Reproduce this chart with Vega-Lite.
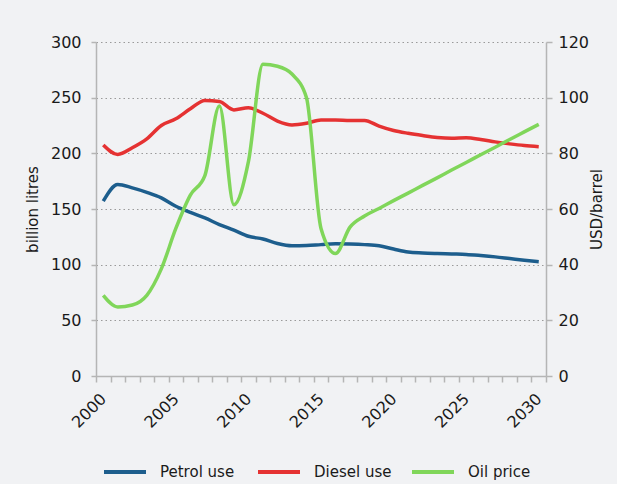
{
  "$schema": "https://vega.github.io/schema/vega-lite/v6.json",
  "width": 450,
  "height": 334,
  "autosize": {"type": "none"},
  "padding": {"left": 96, "top": 42, "right": 71, "bottom": 108},
  "background": "#f1f2f4",
  "config": {
    "view": {"stroke": null},
    "font": "DejaVu Sans",
    "axis": {"labelColor": "#1a1a1a", "titleColor": "#1a1a1a", "domainColor": "#b5b5b5", "tickColor": "#b5b5b5", "domainWidth": 1.5, "tickWidth": 1.5, "titleFontWeight": "normal"},
    "legend": {"labelColor": "#1a1a1a"}
  },
  "data": {
    "values": [
      {"year": 2000, "series": "Petrol use", "value": 157},
      {"year": 2001, "series": "Petrol use", "value": 172},
      {"year": 2002, "series": "Petrol use", "value": 169},
      {"year": 2003, "series": "Petrol use", "value": 165},
      {"year": 2004, "series": "Petrol use", "value": 160},
      {"year": 2005, "series": "Petrol use", "value": 152.5},
      {"year": 2006, "series": "Petrol use", "value": 147},
      {"year": 2007, "series": "Petrol use", "value": 142},
      {"year": 2008, "series": "Petrol use", "value": 136},
      {"year": 2009, "series": "Petrol use", "value": 131},
      {"year": 2010, "series": "Petrol use", "value": 125.5},
      {"year": 2011, "series": "Petrol use", "value": 123},
      {"year": 2012, "series": "Petrol use", "value": 119},
      {"year": 2013, "series": "Petrol use", "value": 117},
      {"year": 2014, "series": "Petrol use", "value": 117.2},
      {"year": 2015, "series": "Petrol use", "value": 118},
      {"year": 2016, "series": "Petrol use", "value": 118.7},
      {"year": 2017, "series": "Petrol use", "value": 118.5},
      {"year": 2018, "series": "Petrol use", "value": 118},
      {"year": 2019, "series": "Petrol use", "value": 117},
      {"year": 2020, "series": "Petrol use", "value": 114},
      {"year": 2021, "series": "Petrol use", "value": 111.3},
      {"year": 2022, "series": "Petrol use", "value": 110.5},
      {"year": 2023, "series": "Petrol use", "value": 110},
      {"year": 2024, "series": "Petrol use", "value": 109.6},
      {"year": 2025, "series": "Petrol use", "value": 109.2},
      {"year": 2026, "series": "Petrol use", "value": 108.2},
      {"year": 2027, "series": "Petrol use", "value": 107},
      {"year": 2028, "series": "Petrol use", "value": 105.5},
      {"year": 2029, "series": "Petrol use", "value": 104},
      {"year": 2030, "series": "Petrol use", "value": 102.7},
      {"year": 2000, "series": "Diesel use", "value": 207.5},
      {"year": 2001, "series": "Diesel use", "value": 199},
      {"year": 2002, "series": "Diesel use", "value": 205},
      {"year": 2003, "series": "Diesel use", "value": 213},
      {"year": 2004, "series": "Diesel use", "value": 225},
      {"year": 2005, "series": "Diesel use", "value": 231},
      {"year": 2006, "series": "Diesel use", "value": 240},
      {"year": 2007, "series": "Diesel use", "value": 247.5},
      {"year": 2008, "series": "Diesel use", "value": 246.5},
      {"year": 2009, "series": "Diesel use", "value": 239},
      {"year": 2010, "series": "Diesel use", "value": 241},
      {"year": 2011, "series": "Diesel use", "value": 236},
      {"year": 2012, "series": "Diesel use", "value": 229},
      {"year": 2013, "series": "Diesel use", "value": 225.5},
      {"year": 2014, "series": "Diesel use", "value": 227},
      {"year": 2015, "series": "Diesel use", "value": 230},
      {"year": 2016, "series": "Diesel use", "value": 230},
      {"year": 2017, "series": "Diesel use", "value": 229.5},
      {"year": 2018, "series": "Diesel use", "value": 229.5},
      {"year": 2019, "series": "Diesel use", "value": 224.5},
      {"year": 2020, "series": "Diesel use", "value": 220.5},
      {"year": 2021, "series": "Diesel use", "value": 218},
      {"year": 2022, "series": "Diesel use", "value": 216},
      {"year": 2023, "series": "Diesel use", "value": 214.3},
      {"year": 2024, "series": "Diesel use", "value": 213.6},
      {"year": 2025, "series": "Diesel use", "value": 214},
      {"year": 2026, "series": "Diesel use", "value": 212.5},
      {"year": 2027, "series": "Diesel use", "value": 210.3},
      {"year": 2028, "series": "Diesel use", "value": 208.5},
      {"year": 2029, "series": "Diesel use", "value": 207},
      {"year": 2030, "series": "Diesel use", "value": 206},
      {"year": 2000, "series": "Oil price", "value": 29},
      {"year": 2001, "series": "Oil price", "value": 24.8},
      {"year": 2002, "series": "Oil price", "value": 25.5},
      {"year": 2003, "series": "Oil price", "value": 29},
      {"year": 2004, "series": "Oil price", "value": 38.5},
      {"year": 2005, "series": "Oil price", "value": 53},
      {"year": 2006, "series": "Oil price", "value": 65},
      {"year": 2007, "series": "Oil price", "value": 72},
      {"year": 2008, "series": "Oil price", "value": 97},
      {"year": 2009, "series": "Oil price", "value": 61.5},
      {"year": 2010, "series": "Oil price", "value": 77},
      {"year": 2011, "series": "Oil price", "value": 112},
      {"year": 2012, "series": "Oil price", "value": 111.3},
      {"year": 2013, "series": "Oil price", "value": 108.5},
      {"year": 2014, "series": "Oil price", "value": 100},
      {"year": 2015, "series": "Oil price", "value": 53},
      {"year": 2016, "series": "Oil price", "value": 44},
      {"year": 2017, "series": "Oil price", "value": 53.5},
      {"year": 2018, "series": "Oil price", "value": 57.5},
      {"year": 2019, "series": "Oil price", "value": 60.2},
      {"year": 2020, "series": "Oil price", "value": 63},
      {"year": 2021, "series": "Oil price", "value": 65.7},
      {"year": 2022, "series": "Oil price", "value": 68.5},
      {"year": 2023, "series": "Oil price", "value": 71.2},
      {"year": 2024, "series": "Oil price", "value": 74},
      {"year": 2025, "series": "Oil price", "value": 76.7},
      {"year": 2026, "series": "Oil price", "value": 79.5},
      {"year": 2027, "series": "Oil price", "value": 82.2},
      {"year": 2028, "series": "Oil price", "value": 85},
      {"year": 2029, "series": "Oil price", "value": 87.7},
      {"year": 2030, "series": "Oil price", "value": 90.4}
    ]
  },
  "encoding": {
    "x": {
      "field": "year",
      "type": "quantitative",
      "scale": {"domain": [1999.5, 2030.5], "nice": false, "zero": false},
      "axis": {
        "title": null,
        "grid": false,
        "values": [1999.5, 2000.5, 2001.5, 2002.5, 2003.5, 2004.5, 2005.5, 2006.5, 2007.5, 2008.5, 2009.5, 2010.5, 2011.5, 2012.5, 2013.5, 2014.5, 2015.5, 2016.5, 2017.5, 2018.5, 2019.5, 2020.5, 2021.5, 2022.5, 2023.5, 2024.5, 2025.5, 2026.5, 2027.5, 2028.5, 2029.5, 2030.5],
        "labelExpr": "(datum.value + 0.5) % 5 === 0 ? format(datum.value + 0.5, 'd') : ''",
        "labelOffset": 7.26,
        "labelAngle": -45,
        "labelAlign": "right",
        "labelBaseline": "middle",
        "labelPadding": 14,
        "labelOverlap": false,
        "labelBound": false,
        "labelFlush": false,
        "labelFontSize": 16,
        "tickSize": 6
      }
    }
  },
  "layer": [
    {
      "transform": [{"filter": "datum.series !== 'Oil price'"}],
      "mark": {"type": "line", "interpolate": "monotone", "strokeWidth": 3.5},
      "encoding": {
        "y": {
          "field": "value",
          "type": "quantitative",
          "scale": {"domain": [0, 300], "nice": false},
          "axis": {
            "orient": "left",
            "title": "billion litres",
            "titleFontSize": 15,
            "titlePadding": 10,
            "values": [0, 50, 100, 150, 200, 250, 300],
            "labelFontSize": 16,
            "labelPadding": 10,
            "tickSize": 5,
            "grid": true,
            "gridDash": [1.5, 3],
            "gridColor": "#9a9a9a",
            "gridWidth": 1
          }
        },
        "color": {
          "field": "series",
          "type": "nominal",
          "scale": {"domain": ["Petrol use", "Diesel use", "Oil price"], "range": ["#1d5e8d", "#e53232", "#80d65a"]},
          "legend": {
            "title": null,
            "orient": "bottom",
            "direction": "horizontal",
            "symbolType": "stroke",
            "symbolSize": 1764,
            "symbolStrokeWidth": 4,
            "symbolOffset": 6,
            "labelFontSize": 15,
            "labelOffset": 12,
            "gridAlign": "all",
            "columnPadding": 12
          }
        }
      }
    },
    {
      "transform": [{"filter": "datum.series === 'Oil price'"}],
      "mark": {"type": "line", "interpolate": "monotone", "strokeWidth": 3.5},
      "encoding": {
        "y": {
          "field": "value",
          "type": "quantitative",
          "scale": {"domain": [0, 120], "nice": false},
          "axis": {
            "orient": "right",
            "title": "USD/barrel",
            "titleFontSize": 15,
            "titleAngle": 270,
            "titleBaseline": "top",
            "titlePadding": 1,
            "values": [0, 20, 40, 60, 80, 100, 120],
            "labelFontSize": 16,
            "labelPadding": 6,
            "tickSize": 6,
            "grid": false
          }
        },
        "color": {
          "field": "series",
          "type": "nominal",
          "scale": {"domain": ["Petrol use", "Diesel use", "Oil price"], "range": ["#1d5e8d", "#e53232", "#80d65a"]},
          "legend": {
            "title": null,
            "orient": "bottom",
            "direction": "horizontal",
            "symbolType": "stroke",
            "symbolSize": 1764,
            "symbolStrokeWidth": 4,
            "symbolOffset": 6,
            "labelFontSize": 15,
            "labelOffset": 12,
            "gridAlign": "all",
            "columnPadding": 12
          }
        }
      }
    }
  ],
  "resolve": {"scale": {"y": "independent"}}
}
